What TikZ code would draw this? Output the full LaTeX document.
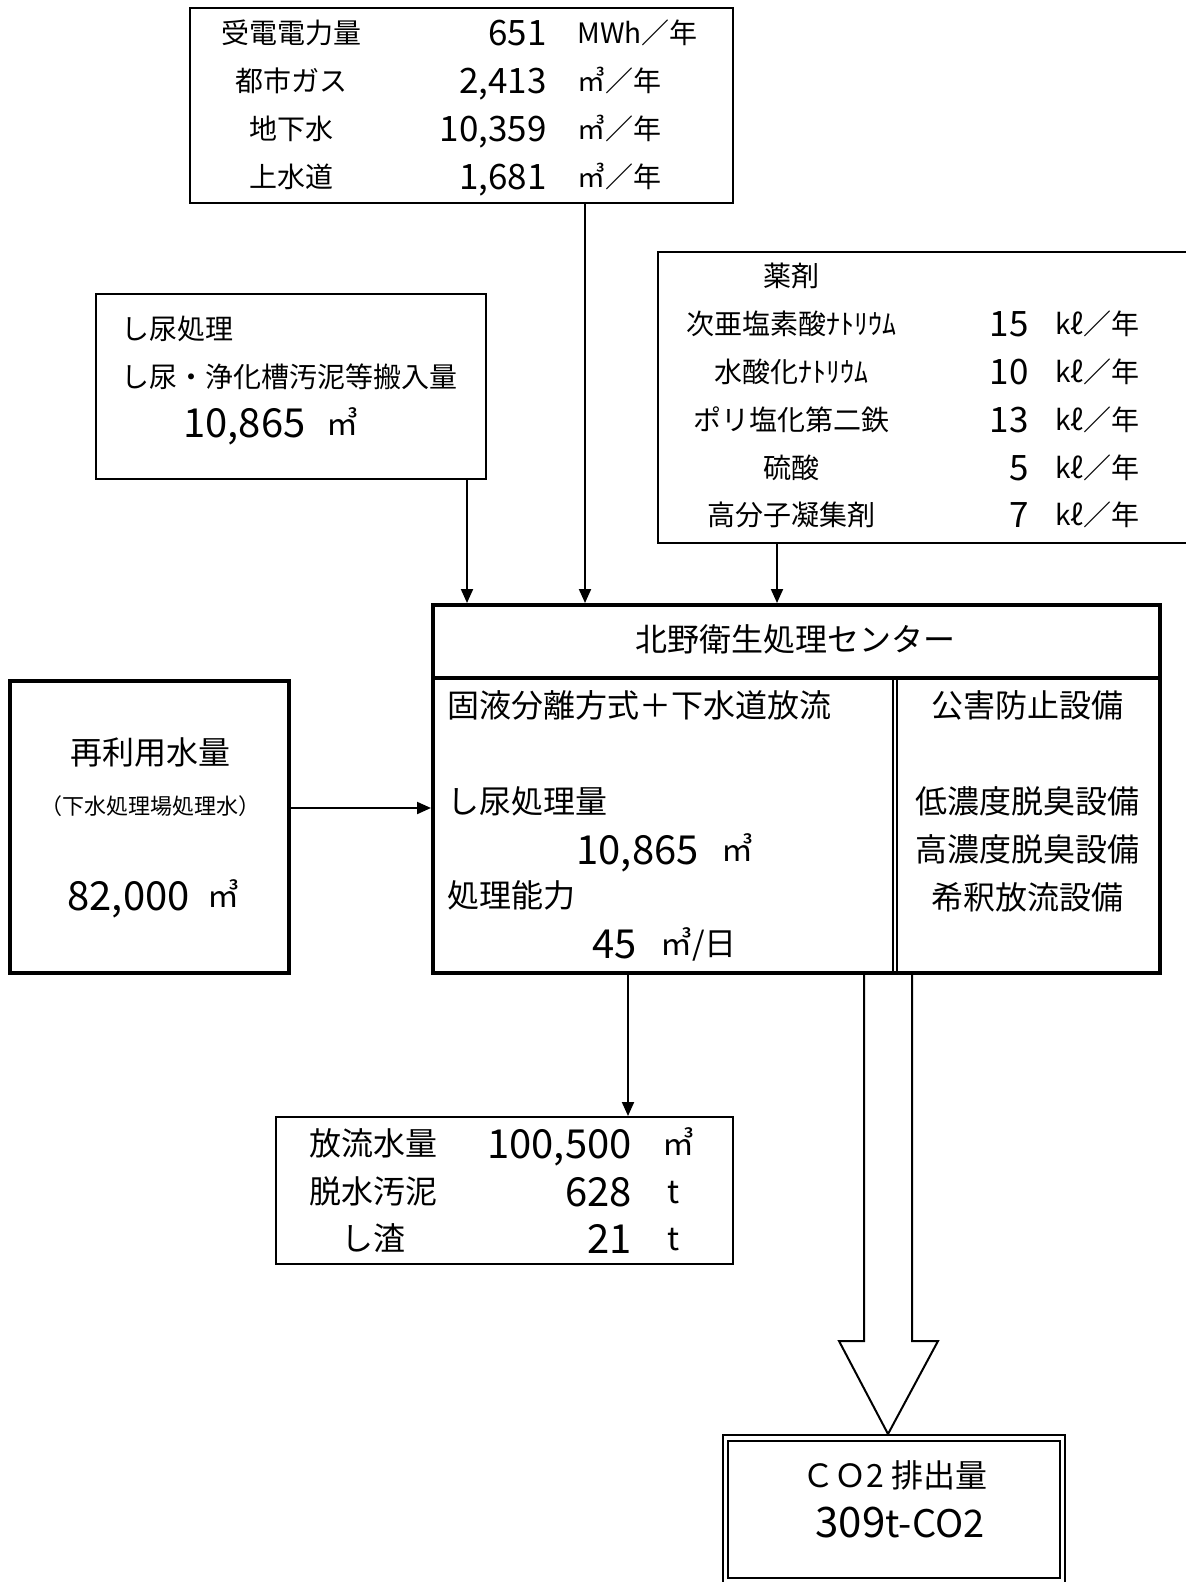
\documentclass[tikz,border=0pt]{standalone}
\usepackage{fontspec}
\setmainfont{Noto Sans CJK JP}
\usetikzlibrary{fit,arrows.meta}
\tikzset{
  box/.style={draw, line width=1pt, inner sep=0pt},
  tbox/.style={draw, line width=2pt, inner sep=0pt},
  fa/.style={inner sep=0pt, font=\fontsize{11}{11}\selectfont, text height=8.8pt, text depth=2.2pt},
  fb/.style={inner sep=0pt, font=\fontsize{14}{14}\selectfont, text height=11.2pt, text depth=2.8pt},
  fc/.style={inner sep=0pt, font=\fontsize{16}{16}\selectfont, text height=12.8pt, text depth=3.2pt},
  fn/.style={inner sep=0pt, font=\fontsize{17.5}{17.5}\selectfont, text height=14pt, text depth=3.5pt},
  fN/.style={inner sep=0pt, font=\fontsize{20}{20}\selectfont, text height=16pt, text depth=4pt},
  conn/.style={line width=1pt, -{Triangle[length=7pt,width=6pt]}},
}
\begin{document}
\begin{tikzpicture}[x=0.5pt,y=-0.5pt]
\path[use as bounding box, clip] (0,0) rectangle (1186,1582);
\fill[white] (0,0) rectangle (1186,1582);

% ---------- top box
\node[box, fit={(190,8) (733,203)}] (top) {};
\node[fb] (t1l) at (291,35) {受電電力量};
\node[fn, anchor=east] (t1n) at (547,35) {651};
\node[fb, anchor=west] (t1u) at (577,35) {MWh／年};
\node[fb] (t2l) at (291,83) {都市ガス};
\node[fn, anchor=east] (t2n) at (547,83) {2,413};
\node[fb, anchor=west] (t2u) at (577,83) {㎥／年};
\node[fb] (t3l) at (291,131) {地下水};
\node[fn, anchor=east] (t3n) at (547,131) {10,359};
\node[fb, anchor=west] (t3u) at (577,131) {㎥／年};
\node[fb] (t4l) at (291,179) {上水道};
\node[fn, anchor=east] (t4n) at (547,179) {1,681};
\node[fb, anchor=west] (t4u) at (577,179) {㎥／年};

% ---------- shinyo box
\node[box, fit={(96,294) (486,479)}] (shinyo) {};
\node[fb, anchor=west] (s1) at (121,331) {し尿処理};
\node[fb, anchor=west] (s2) at (121,379) {し尿・浄化槽汚泥等搬入量};
\node[fN, anchor=west] (s3) at (183,426) {10,865};
\node[fc, anchor=west] (s3u) at (326,426) {㎥};

% ---------- chemicals box
\node[box, fit={(658,252) (1200,543)}] (yaku) {};
\node[fb] (y0) at (791,278) {薬剤};
\node[fb] (y1l) at (791,326) {次亜塩素酸ﾅﾄﾘｳﾑ};
\node[fn, anchor=east] (y1n) at (1029,326) {15};
\node[fb, anchor=west] (y1u) at (1055,326) {kℓ／年};
\node[fb] (y2l) at (791,374) {水酸化ﾅﾄﾘｳﾑ};
\node[fn, anchor=east] (y2n) at (1029,374) {10};
\node[fb, anchor=west] (y2u) at (1055,374) {kℓ／年};
\node[fb] (y3l) at (791,422) {ポリ塩化第二鉄};
\node[fn, anchor=east] (y3n) at (1029,422) {13};
\node[fb, anchor=west] (y3u) at (1055,422) {kℓ／年};
\node[fb] (y4l) at (791,470) {硫酸};
\node[fn, anchor=east] (y4n) at (1029,470) {5};
\node[fb, anchor=west] (y4u) at (1055,470) {kℓ／年};
\node[fb] (y5l) at (791,517) {高分子凝集剤};
\node[fn, anchor=east] (y5n) at (1029,517) {7};
\node[fb, anchor=west] (y5u) at (1055,517) {kℓ／年};

% ---------- center
\node[tbox, fit={(433,605) (1160,678)}] (ctitle) {};
\node[tbox, fit={(433,678) (1160,973)}] (cbody) {};
\node[fc] (ct) at (795,642) {北野衛生処理センター};
\draw[line width=0.6pt] (893,678) -- (893,973);
\draw[line width=0.6pt] (897,678) -- (897,973);
\node[fc, anchor=west] (c1) at (447,708) {固液分離方式＋下水道放流};
\node[fc, anchor=west] (c2) at (447,804) {し尿処理量};
\node[fN, anchor=east] (c3) at (699,852) {10,865};
\node[fc, anchor=west] (c3u) at (721,852) {㎥};
\node[fc, anchor=west] (c4) at (447,898) {処理能力};
\node[fN, anchor=east] (c5) at (637,946) {45};
\node[fc, anchor=west] (c5u) at (660,946) {㎥/日};
\node[fc] (r1) at (1027,708) {公害防止設備};
\node[fc] (r2) at (1027,804) {低濃度脱臭設備};
\node[fc] (r3) at (1027,852) {高濃度脱臭設備};
\node[fc] (r4) at (1027,900) {希釈放流設備};

% ---------- reuse box
\node[tbox, fit={(10,681) (289,973)}] (reuse) {};
\node[fc] (u1) at (150,755) {再利用水量};
\node[fa] (u2) at (150,808) {（下水処理場処理水）};
\node[fN, anchor=east] (u3) at (190,898) {82,000};
\node[fc, anchor=west] (u3u) at (207,898) {㎥};

% ---------- output box
\node[box, fit={(276,1117) (733,1264)}] (out) {};
\node[fc] (o1l) at (373,1146) {放流水量};
\node[fN, anchor=east] (o1n) at (632,1146) {100,500};
\node[fc, anchor=west] (o1u) at (662,1146) {㎥};
\node[fc] (o2l) at (373,1194) {脱水汚泥};
\node[fN, anchor=east] (o2n) at (632,1194) {628};
\node[fc, anchor=west] (o2u) at (667,1194) {t};
\node[fc] (o3l) at (373,1241) {し渣};
\node[fN, anchor=east] (o3n) at (632,1241) {21};
\node[fc, anchor=west] (o3u) at (667,1241) {t};

% ---------- CO2 box
\node[box, fit={(723,1435) (1065,1584)}] (co2) {};
\draw[line width=1pt] (728,1441) rectangle (1060,1578);
\node[fc] (k1) at (895,1478) {ＣＯ2 排出量};
\node[fN, font=\fontsize{19}{19}\selectfont] (k2) at (900,1525) {{\fontsize{21}{21}\selectfont 309}t-CO2};

% ---------- connectors
\coordinate (xa) at (585,0);
\coordinate (xb) at (467,0);
\coordinate (xc) at (777,0);
\coordinate (xd) at (628,0);
\coordinate (ya) at (0,808);
\draw[conn] (top.south -| xa) -- (ctitle.north -| xa);
\draw[conn] (shinyo.south -| xb) -- (ctitle.north -| xb);
\draw[conn] (yaku.south -| xc) -- (ctitle.north -| xc);
\draw[conn] (reuse.east |- ya) -- (cbody.west |- ya);
\draw[conn] (cbody.south -| xd) -- (out.north -| xd);

% ---------- hollow arrow
\coordinate (hl) at (864,0);
\coordinate (hr) at (912,0);
\draw[line width=1pt, line join=miter] (cbody.south -| hl) -- (864,1341) -- (839,1341) -- (co2.north -| 888,0) -- (938,1341) -- (912,1341) -- (cbody.south -| hr);
\end{tikzpicture}
\end{document}
